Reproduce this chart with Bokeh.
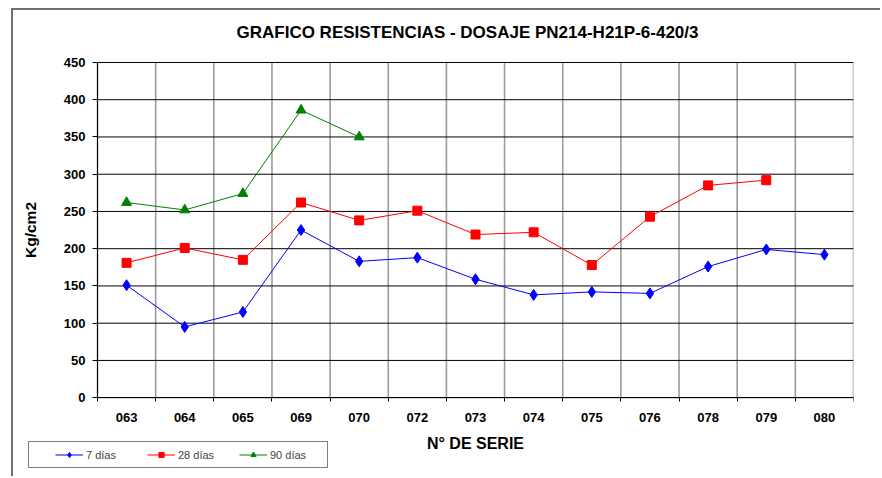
import numpy as np
from bokeh.plotting import figure
from bokeh.models import Range1d, FixedTicker, Legend, LegendItem, LinearAxis
from bokeh.embed import file_html
from bokeh.resources import INLINE

categories = ["063", "064", "065", "069", "070", "072", "073", "074", "075", "076", "078", "079", "080"]
dias7 = [151, 95, 115, 225, 183, 188, 159, 138, 142, 140, 176, 199, 192]
dias28 = [181, 201, 185, 262, 238, 251, 219, 222, 178, 243, 285, 292]
dias90 = [262, 252, 274, 386, 350]
y_ticks = [0, 50, 100, 150, 200, 250, 300, 350, 400, 450]
y_max = 450

FONT = "Liberation Sans"
W, H = 869, 468                       # figure size (page minus outer chart border)
PL, PR, PT, PB = 84, 840, 51, 387     # data area in figure pixels
FL, FT, FB = 7, 40, 458               # frame left / top / bottom (room for texts, legend)

n = len(categories)
px_x = (PR - PL) / n
px_y = (PB - PT) / y_max

p = figure(width=W, height=H, output_backend="svg", toolbar_location=None,
           x_range=Range1d(-(PL - FL) / px_x, n),
           y_range=Range1d(-(FB - PB) / px_y, y_max + (PT - FT) / px_y),
           x_axis_location=None, y_axis_location=None,
           min_border_left=FL, min_border_right=W - PR, min_border_top=FT,
           min_border_bottom=H - FB)
p.styles = {"margin-left": "11px", "margin-top": "8px",
            "border-left": "2px solid #707070", "border-top": "2px solid #707070"}
p.xgrid.visible = False
p.ygrid.visible = False

p.title.text = "GRAFICO RESISTENCIAS - DOSAJE PN214-H21P-6-420/3"
p.title.align = "left"
p.title.offset = 216
p.title.text_font = FONT
p.title.text_font_size = "17px"
p.title.text_font_style = "bold"
p.title.text_color = "black"
p.title.standoff = 20

xc = np.arange(n) + 0.5
bounds_x = list(range(n + 1))

# grid lines
p.segment(x0=bounds_x, x1=bounds_x, y0=0, y1=y_max, line_color="#9c9c9c", line_width=1.6)
p.segment(x0=0, x1=n, y0=y_ticks, y1=y_ticks, line_color="black", line_width=1)


def style_axis(ax):
    ax.major_label_text_font = FONT
    ax.major_label_text_font_size = "13px"
    ax.major_label_text_font_style = "bold"
    ax.major_label_text_color = "black"
    ax.axis_label_text_font = FONT
    ax.axis_label_text_font_style = "bold"
    ax.axis_label_text_color = "black"
    ax.axis_line_color = "black"
    ax.minor_tick_line_color = None
    ax.fixed_location = 0


# y axis
yax = LinearAxis(ticker=FixedTicker(ticks=y_ticks), bounds=(0, y_max))
style_axis(yax)
yax.axis_label = "Kg/cm2"
yax.axis_label_text_font_size = "15.5px"
yax.axis_label_standoff = 22
yax.major_tick_line_color = "black"
yax.major_tick_in = 0
yax.major_tick_out = 5
yax.major_label_standoff = 7
p.add_layout(yax, "left")

# x axis: tick marks at category boundaries
xtk = LinearAxis(ticker=FixedTicker(ticks=bounds_x), bounds=(0, n))
style_axis(xtk)
xtk.major_label_text_color = None
xtk.major_label_text_font_size = "1px"
xtk.major_tick_line_color = "black"
xtk.major_tick_in = 0
xtk.major_tick_out = 4
p.add_layout(xtk, "below")

# x axis: category labels at centers
xax = LinearAxis(ticker=FixedTicker(ticks=list(xc)), bounds=(0, n))
style_axis(xax)
xax.major_label_overrides = {float(x): c for x, c in zip(xc, categories)}
xax.major_tick_line_color = None
xax.major_label_standoff = 9
xax.axis_label = "N° DE SERIE"
xax.axis_label_text_font_size = "16px"
xax.axis_label_standoff = 10
p.add_layout(xax, "below")

p.outline_line_color = None
p.background_fill_color = "white"
p.border_fill_color = "white"

r7l = p.line(xc, dias7, line_color="#0000ff", line_width=1)
r7m = p.scatter(xc, dias7, marker="diamond", size=11, fill_color="#0000ff", line_color="#0000ff")
x28 = xc[:len(dias28)]
r28l = p.line(x28, dias28, line_color="#ff0000", line_width=1)
r28m = p.scatter(x28, dias28, marker="square", size=9, fill_color="#ff0000", line_color="#ff0000")
x90 = xc[:len(dias90)]
r90l = p.line(x90, dias90, line_color="#008000", line_width=1)
r90m = p.scatter(x90, dias90, marker="triangle", size=10, fill_color="#008000", line_color="#008000")

legend = Legend(items=[
    LegendItem(label="7 días", renderers=[r7l, r7m]),
    LegendItem(label="28 días", renderers=[r28l, r28m]),
    LegendItem(label="90 días", renderers=[r90l, r90m]),
], orientation="horizontal", location=(8, 0))
legend.title = " "
legend.title_location = "left"
legend.title_text_font_size = "6px"
legend.title_standoff = 14
legend.label_text_font = FONT
legend.label_text_font_size = "11px"
legend.border_line_color = "black"
legend.border_line_width = 1
legend.padding = 6
legend.spacing = 10
legend.glyph_width = 28
legend.glyph_height = 13
legend.label_standoff = 3
legend.label_width = 51
legend.label_height = 13
legend.margin = 0
p.add_layout(legend, "center")

open("out.html", "w").write(file_html(p, INLINE))
